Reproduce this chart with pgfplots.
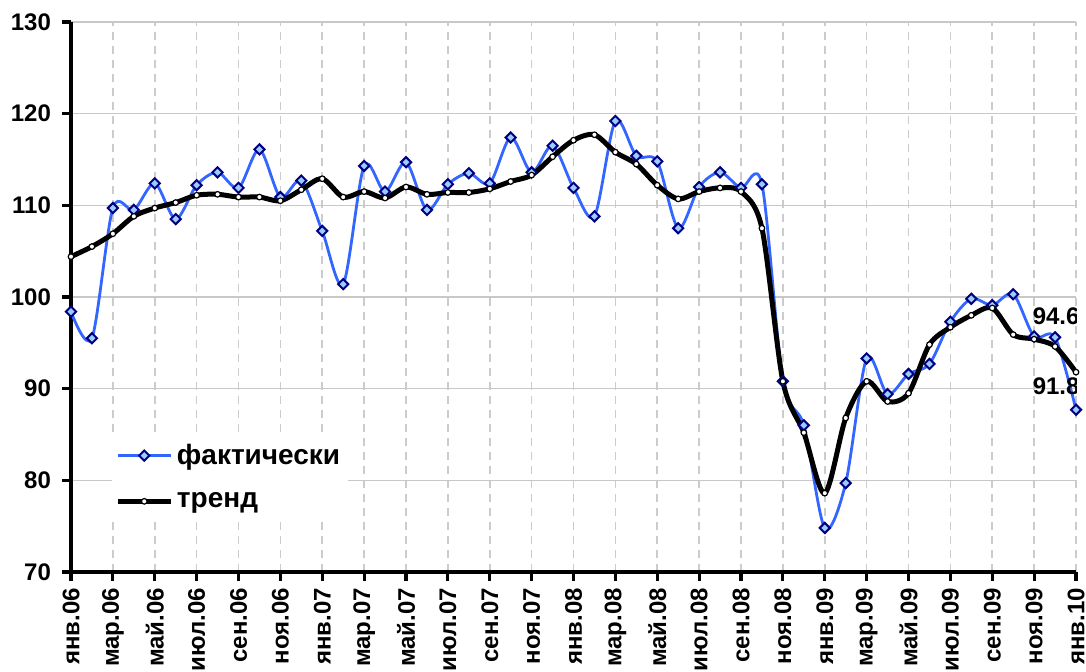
\documentclass[border=0pt]{standalone}
\usepackage{fontspec}
\setmainfont{Liberation Sans}
\usepackage{pgfplots}
\pgfplotsset{compat=1.18}
\definecolor{actline}{HTML}{3366FF}
\definecolor{actedge}{HTML}{000080}
\definecolor{actfill}{HTML}{99CCFF}
\definecolor{gridc}{HTML}{C8C8C8}
\definecolor{vgridc}{HTML}{CCCCCC}
\begin{document}
\begin{tikzpicture}
\path[use as bounding box] (-35.5pt,-50pt) rectangle (507.5pt,286pt);
\begin{axis}[
  scale only axis, width=502.5pt, height=275pt,
  xmin=0, xmax=48, ymin=70, ymax=130,
  axis x line=bottom, axis y line=left,
  axis line style={line width=2pt,-},
  ytick={70,80,...,130},
  xtick={0,2,...,48},
  xticklabels={янв.06,мар.06,май.06,июл.06,сен.06,ноя.06,янв.07,мар.07,май.07,июл.07,сен.07,ноя.07,янв.08,мар.08,май.08,июл.08,сен.08,ноя.08,янв.09,мар.09,май.09,июл.09,сен.09,ноя.09,янв.10},
  tick align=outside, major tick length=4.5pt,
  tick style={black, line width=1.6pt},
  ticklabel style={font=\bfseries\fontsize{12}{14}\selectfont},
  /pgf/number format/assume math mode=true,
  xticklabel style={rotate=90, anchor=east},
  yticklabel style={xshift=-2pt},
  ymajorgrids, xmajorgrids,
  y grid style={gridc, line width=0.8pt},
  x grid style={vgridc, line width=0.8pt, dash pattern=on 4pt off 3pt},
  legend style={at={(0.04,0.248)}, anchor=north west, draw=none, fill=white,
    font=\bfseries\fontsize{14}{16}\selectfont, row sep=8.5pt, inner sep=2pt},
  legend cell align=left,
  legend image code/.code={\draw[mark repeat=2,mark phase=2] plot coordinates {(0cm,0cm) (0.46cm,0cm) (0.92cm,0cm)};},
]
\addplot[actline, line width=1.4pt, smooth, mark=square*,
  mark size=1.8pt, mark options={rotate=45, draw=actedge, fill=actfill, line width=1pt}]
coordinates {
(0,98.4)(1,95.5)(2,109.7)(3,109.5)(4,112.4)(5,108.5)(6,112.2)(7,113.6)(8,111.9)(9,116.1)
(10,110.9)(11,112.7)(12,107.2)(13,101.4)(14,114.3)(15,111.5)(16,114.7)(17,109.5)(18,112.3)(19,113.5)
(20,112.4)(21,117.4)(22,113.6)(23,116.5)(24,111.9)(25,108.8)(26,119.2)(27,115.4)(28,114.8)(29,107.5)
(30,112.0)(31,113.6)(32,111.9)(33,112.3)(34,90.8)(35,86.0)(36,74.8)(37,79.7)(38,93.3)(39,89.4)
(40,91.6)(41,92.7)(42,97.3)(43,99.8)(44,99.1)(45,100.3)(46,95.7)(47,95.6)(48,87.7)
};
\addlegendentry{фактически}
\addplot[black, line width=2.5pt, smooth, mark=*,
  mark size=1.4pt, mark options={fill=white, draw=black, line width=0.6pt}]
coordinates {
(0,104.4)(1,105.5)(2,106.9)(3,108.8)(4,109.7)(5,110.3)(6,111.1)(7,111.2)(8,110.9)(9,110.9)
(10,110.5)(11,111.7)(12,112.9)(13,110.9)(14,111.5)(15,110.8)(16,112.0)(17,111.2)(18,111.4)(19,111.4)
(20,111.8)(21,112.6)(22,113.3)(23,115.3)(24,117.1)(25,117.7)(26,115.8)(27,114.5)(28,112.2)(29,110.7)
(30,111.5)(31,111.9)(32,111.5)(33,107.5)(34,90.8)(35,85.2)(36,78.6)(37,86.8)(38,90.8)(39,88.6)
(40,89.5)(41,94.8)(42,96.7)(43,98.0)(44,98.8)(45,95.9)(46,95.4)(47,94.6)(48,91.8)
};
\addlegendentry{тренд}
\node[font=\bfseries\fontsize{12}{14}\selectfont] at (axis cs:47.05,97.9) {94.6};
\node[font=\bfseries\fontsize{12}{14}\selectfont] at (axis cs:47.05,90.3) {91.8};
\end{axis}
\end{tikzpicture}
\end{document}
